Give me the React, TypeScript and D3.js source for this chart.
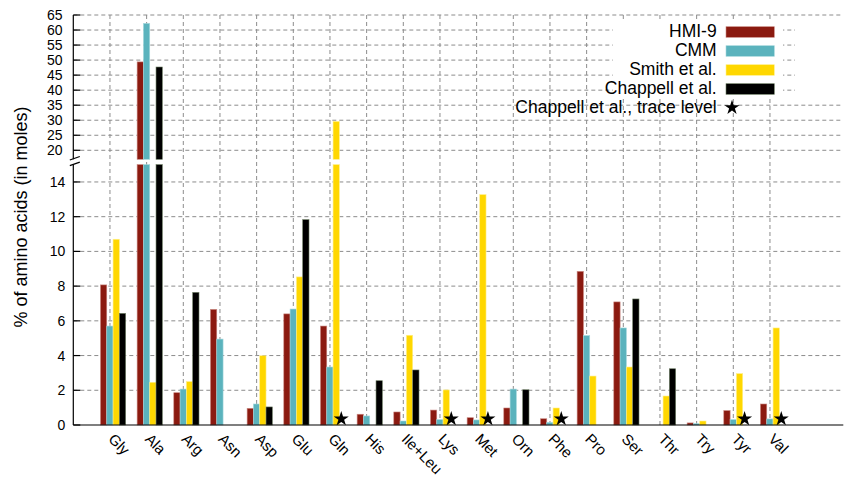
import React from 'react';
import * as d3 from 'd3';

// Amino acid composition (% of amino acids, in moles)
const categories = ['Gly', 'Ala', 'Arg', 'Asn', 'Asp', 'Glu', 'Gln', 'His', 'Ile+Leu', 'Lys', 'Met', 'Orn', 'Phe', 'Pro', 'Ser', 'Thr', 'Try', 'Tyr', 'Val'];
const hmi9 = [8.07, 49.4, 1.86, 6.66, 0.96, 6.4, 5.7, 0.62, 0.75, 0.86, 0.42, 0.98, 0.36, 8.85, 7.09, 0, 0.12, 0.83, 1.21];
const cmm = [5.7, 62.2, 2.07, 4.95, 1.21, 6.68, 3.34, 0.52, 0.23, 0.31, 0.29, 2.07, 0.15, 5.15, 5.59, 0, 0.08, 0.31, 0.35];
const smith = [10.7, 2.46, 2.5, 0, 3.99, 8.53, 29.6, 0, 5.17, 2.02, 13.27, 0, 0.98, 2.82, 3.34, 1.67, 0.23, 2.96, 5.59];
const chappell = [6.43, 47.7, 7.64, 0, 1.04, 11.83, 0, 2.55, 3.17, 0, 0, 2.03, 0, 0, 7.26, 3.24, 0, 0, 0];
// amino acids that Chappell et al. report only at trace level
const chappellTrace = ['Gln', 'Lys', 'Met', 'Phe', 'Tyr', 'Val'];
const traceMarkValue = 0.35;

const seriesNames = ['HMI-9', 'CMM', 'Smith et al.', 'Chappell et al.'];
const traceLabel = 'Chappell et al., trace level';
const lowerTicks = [0, 2, 4, 6, 8, 10, 12, 14];
const upperTicks = [20, 25, 30, 35, 40, 45, 50, 55, 60, 65];

const fills = ['#8b1a10', '#5bb3bd', '#ffd700', '#000000'];
const edges = ['#c98880', '#a6d8dd', '#fff08a', '#6c7d62'];

const W = 844;
const H = 481;
const FONT = '"Liberation Sans", Arial, Helvetica, sans-serif';

export default function App() {
  const series = [hmi9, cmm, smith, chappell];

  const x = d3.scaleLinear().domain([-1, 20]).range([73.3, 843.3]);
  // broken y axis: lower panel 0..15, upper panel 17..65
  const lowerMax = 15;
  const upperMin = 17;
  const yLow = d3.scaleLinear().domain([0, lowerMax]).range([425, 164.6]);
  const yHigh = d3.scaleLinear().domain([upperMin, 65]).range([159.3, 15]);

  const x0 = x(-1);
  const x1 = x(20);
  const barW = 6.3;
  const groupShift = -9.5;

  const gridStyle = { stroke: '#8c8c8c', strokeWidth: 1, strokeDasharray: '4,3' };

  const bars: React.ReactNode[] = [];
  series.forEach((vals, s) => {
    vals.forEach((v, i) => {
      if (!v) return;
      const left = x(i) + groupShift + s * barW;
      const common = { fill: fills[s], stroke: edges[s], strokeWidth: 0.6 };
      if (v <= lowerMax) {
        bars.push(
          <rect key={`b${s}-${i}`} x={left} y={yLow(v)} width={barW} height={yLow(0) - yLow(v)} {...common} />
        );
      } else {
        bars.push(
          <rect key={`b${s}-${i}`} x={left} y={yLow(lowerMax)} width={barW} height={yLow(0) - yLow(lowerMax)} {...common} />
        );
        bars.push(
          <rect key={`u${s}-${i}`} x={left} y={yHigh(v)} width={barW} height={yHigh(upperMin) - yHigh(v)} {...common} />
        );
      }
    });
  });

  const star = d3.symbol(d3.symbolStar).size(70)();

  const traceMarks = categories
    .map((c, i) => ({ c, i }))
    .filter((d) => chappellTrace.includes(d.c))
    .map((d) => (
      <path key={`t${d.i}`} d={star || ''} transform={`translate(${x(d.i) + 11.3},${yLow(traceMarkValue)})`} fill="#000" />
    ));

  const legendX = 716.7;
  const sampleX = 726;
  const sampleW = 48.3;
  const rowBase = 37.3;
  const rowStep = 19;
  const traceBase = 112.6;

  return (
    <svg width={W} height={H} style={{ position: 'absolute', left: 0, top: 0, background: '#fff' }} fontFamily={FONT}>
      <rect x={0} y={0} width={W} height={H} fill="#fff" />
      {/* grid */}
      <g>
        {lowerTicks.filter((t) => t > 0).map((t) => (
          <line key={`gl${t}`} x1={x0} x2={x1} y1={yLow(t)} y2={yLow(t)} {...gridStyle} />
        ))}
        {upperTicks.map((t) => (
          <line key={`gu${t}`} x1={x0} x2={x1} y1={yHigh(t)} y2={yHigh(t)} {...gridStyle} />
        ))}
        {categories.map((c, i) => (
          <line key={`gv${c}`} x1={x(i)} x2={x(i)} y1={yHigh(65)} y2={yLow(0)} {...gridStyle} />
        ))}
      </g>
      {/* key background */}
      <rect x={613} y={22} width={170} height={76} fill="#fff" />
      <rect x={795} y={22} width={49} height={76} fill="#fff" />

      {/* bars */}
      <g>{bars}</g>
      <g>{traceMarks}</g>

      {/* axes */}
      <g stroke="#000" strokeWidth={1.2} fill="none">
        <line x1={x0} x2={x1} y1={yLow(0)} y2={yLow(0)} />
        <line x1={x0} x2={x0} y1={yLow(0)} y2={yLow(lowerMax)} />
        <line x1={x0} x2={x0} y1={yHigh(upperMin)} y2={yHigh(65)} />
        {lowerTicks.map((t) => (
          <line key={`tl${t}`} x1={x0} x2={x0 + 7} y1={yLow(t)} y2={yLow(t)} />
        ))}
        {upperTicks.map((t) => (
          <line key={`tu${t}`} x1={x0} x2={x0 + 7} y1={yHigh(t)} y2={yHigh(t)} />
        ))}
        {/* axis break marks */}
        <line x1={x0 - 3.5} x2={x0 + 6.5} y1={yHigh(upperMin) + 0.7} y2={yHigh(upperMin) - 2.8} />
        <line x1={x0 - 3.5} x2={x0 + 6.5} y1={yLow(lowerMax) + 1} y2={yLow(lowerMax) - 2.5} />
      </g>

      {/* y tick labels */}
      <g fontSize={14} textAnchor="end" fill="#000">
        {lowerTicks.map((t) => (
          <text key={`ll${t}`} x={65.3} y={yLow(t)} dy="0.36em">{t}</text>
        ))}
        {upperTicks.map((t) => (
          <text key={`lu${t}`} x={62.5} y={yHigh(t)} dy="0.36em">{t}</text>
        ))}
      </g>

      {/* y axis title */}
      <text transform="translate(27,217) rotate(-90)" textAnchor="middle" fontSize={18} fill="#000">
        % of amino acids (in moles)
      </text>

      {/* x tick labels */}
      <g fontSize={15} fill="#000">
        {categories.map((c, i) => (
          <text key={`xl${c}`} transform={`translate(${x(i) - 2.5},440) rotate(45)`}>{c}</text>
        ))}
      </g>

      {/* key */}
      <g fontSize={17.5} fill="#000">
        {seriesNames.map((n, s) => (
          <g key={`k${n}`}>
            <text x={legendX} y={rowBase + s * rowStep} textAnchor="end">{n}</text>
            <rect
              x={sampleX}
              y={rowBase + s * rowStep - 10.6}
              width={sampleW}
              height={10.6}
              fill={fills[s]}
              stroke={edges[s]}
              strokeWidth={0.6}
            />
          </g>
        ))}
        <text x={legendX} y={traceBase} textAnchor="end">{traceLabel}</text>
        <path d={star || ''} transform={`translate(732,${traceBase - 5})`} fill="#000" />
      </g>
    </svg>
  );
}
